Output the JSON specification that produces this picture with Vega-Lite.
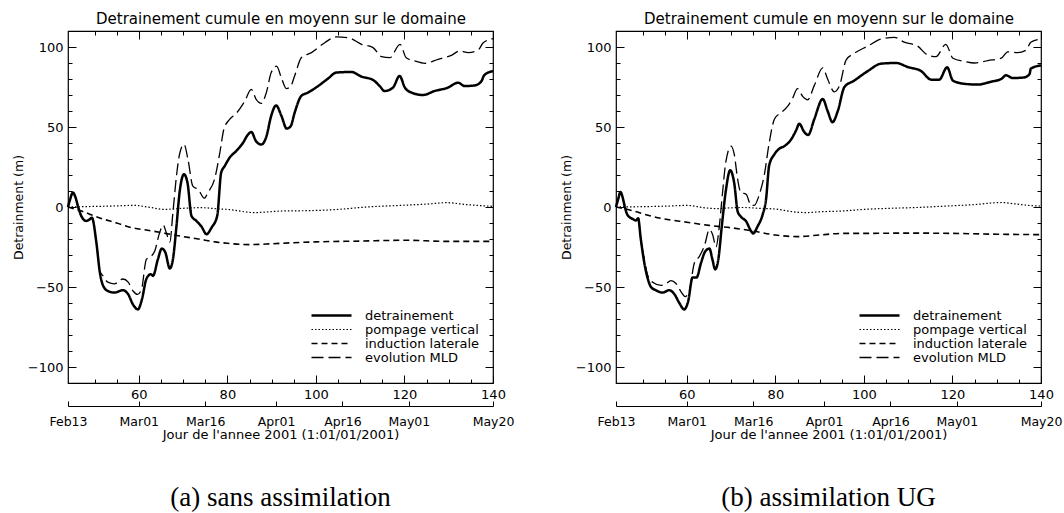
{
"$schema": "https://vega.github.io/schema/vega-lite/v6.json",
"background": "white",
"padding": {"left": 11, "top": 10, "right": 0, "bottom": 0},
"spacing": 44,
"config": {
  "view": {"stroke": "black", "strokeWidth": 1.2},
  "font": "DejaVu Sans",
  "axis": {"grid": false, "tickColor": "black", "labelColor": "black", "titleColor": "black", "domainColor": "black", "labelFont": "DejaVu Sans", "titleFont": "DejaVu Sans", "titleFontWeight": "normal", "labelFontSize": 13, "titleFontSize": 13, "labelFlush": false, "labelOverlap": false, "labelBound": false, "tickWidth": 1}
},
"resolve": {"scale": {"strokeDash": "independent", "strokeWidth": "independent"}, "legend": {"strokeDash": "independent", "strokeWidth": "independent"}},
"datasets": {
"a": [
{"d":44,"v":0,"s":"detrainement"},{"d":44.5,"v":5,"s":"detrainement"},{"d":45.1,"v":9,"s":"detrainement"},{"d":45.7,"v":6,"s":"detrainement"},{"d":46.3,"v":0,"s":"detrainement"},{"d":47,"v":-5.6,"s":"detrainement"},{"d":48.1,"v":-8.7,"s":"detrainement"},{"d":48.9,"v":-7.7,"s":"detrainement"},{"d":49.4,"v":-6.7,"s":"detrainement"},{"d":50.4,"v":-22,"s":"detrainement"},{"d":51.2,"v":-41,"s":"detrainement"},{"d":51.9,"v":-49,"s":"detrainement"},{"d":53,"v":-52.5,"s":"detrainement"},{"d":54.5,"v":-53.5,"s":"detrainement"},{"d":56.4,"v":-52,"s":"detrainement"},{"d":57.6,"v":-54.6,"s":"detrainement"},{"d":58.7,"v":-61,"s":"detrainement"},{"d":59.8,"v":-64,"s":"detrainement"},{"d":60.7,"v":-57.7,"s":"detrainement"},{"d":61.7,"v":-45,"s":"detrainement"},{"d":62.7,"v":-42,"s":"detrainement"},{"d":63.2,"v":-43,"s":"detrainement"},{"d":64.3,"v":-32.7,"s":"detrainement"},{"d":65.2,"v":-26,"s":"detrainement"},{"d":66,"v":-28.5,"s":"detrainement"},{"d":67,"v":-38.5,"s":"detrainement"},{"d":67.7,"v":-32.7,"s":"detrainement"},{"d":68.5,"v":-12,"s":"detrainement"},{"d":69.2,"v":9,"s":"detrainement"},{"d":70.2,"v":20.4,"s":"detrainement"},{"d":71,"v":15,"s":"detrainement"},{"d":71.9,"v":-5.6,"s":"detrainement"},{"d":73,"v":-8.7,"s":"detrainement"},{"d":74.1,"v":-12,"s":"detrainement"},{"d":75.3,"v":-17,"s":"detrainement"},{"d":76.4,"v":-13,"s":"detrainement"},{"d":77.7,"v":-5.6,"s":"detrainement"},{"d":78.6,"v":21.5,"s":"detrainement"},{"d":79.4,"v":25.6,"s":"detrainement"},{"d":80.5,"v":30.8,"s":"detrainement"},{"d":82,"v":35,"s":"detrainement"},{"d":83.5,"v":40,"s":"detrainement"},{"d":84.7,"v":45.4,"s":"detrainement"},{"d":85.4,"v":46.9,"s":"detrainement"},{"d":86.5,"v":41,"s":"detrainement"},{"d":87.7,"v":39,"s":"detrainement"},{"d":88.8,"v":44,"s":"detrainement"},{"d":89.9,"v":57,"s":"detrainement"},{"d":91,"v":63.5,"s":"detrainement"},{"d":92.2,"v":57,"s":"detrainement"},{"d":93.4,"v":49,"s":"detrainement"},{"d":94.3,"v":50.5,"s":"detrainement"},{"d":95.2,"v":59,"s":"detrainement"},{"d":96.7,"v":69.4,"s":"detrainement"},{"d":98.2,"v":71.5,"s":"detrainement"},{"d":100.5,"v":75.6,"s":"detrainement"},{"d":102.7,"v":80.2,"s":"detrainement"},{"d":104.6,"v":84,"s":"detrainement"},{"d":108,"v":84.4,"s":"detrainement"},{"d":110.3,"v":81.5,"s":"detrainement"},{"d":112.9,"v":79.4,"s":"detrainement"},{"d":114.4,"v":75.6,"s":"detrainement"},{"d":115.5,"v":72.5,"s":"detrainement"},{"d":117.4,"v":74.6,"s":"detrainement"},{"d":118.9,"v":81.9,"s":"detrainement"},{"d":120.1,"v":74.6,"s":"detrainement"},{"d":121.6,"v":71.5,"s":"detrainement"},{"d":124.2,"v":70,"s":"detrainement"},{"d":126.8,"v":72.5,"s":"detrainement"},{"d":129.8,"v":74.6,"s":"detrainement"},{"d":132.1,"v":77.7,"s":"detrainement"},{"d":133.6,"v":75.6,"s":"detrainement"},{"d":135.9,"v":76,"s":"detrainement"},{"d":137.4,"v":78.7,"s":"detrainement"},{"d":138,"v":82.3,"s":"detrainement"},{"d":140,"v":85,"s":"detrainement"},
{"d":44,"v":0,"s":"pompage vertical"},{"d":49,"v":0.3,"s":"pompage vertical"},{"d":54,"v":0.6,"s":"pompage vertical"},{"d":59,"v":1,"s":"pompage vertical"},{"d":62,"v":0,"s":"pompage vertical"},{"d":65.8,"v":-1.5,"s":"pompage vertical"},{"d":70,"v":-0.8,"s":"pompage vertical"},{"d":74,"v":-0.4,"s":"pompage vertical"},{"d":78,"v":-1.2,"s":"pompage vertical"},{"d":80,"v":-1.5,"s":"pompage vertical"},{"d":86,"v":-3.5,"s":"pompage vertical"},{"d":92.5,"v":-2.5,"s":"pompage vertical"},{"d":98,"v":-2.3,"s":"pompage vertical"},{"d":104,"v":-1.7,"s":"pompage vertical"},{"d":111.5,"v":0,"s":"pompage vertical"},{"d":119,"v":1,"s":"pompage vertical"},{"d":125,"v":1.8,"s":"pompage vertical"},{"d":129.5,"v":2.7,"s":"pompage vertical"},{"d":134,"v":1.5,"s":"pompage vertical"},{"d":140,"v":0.4,"s":"pompage vertical"},
{"d":44,"v":0,"s":"induction laterale"},{"d":47,"v":-2.5,"s":"induction laterale"},{"d":51,"v":-6.7,"s":"induction laterale"},{"d":55,"v":-10,"s":"induction laterale"},{"d":58.5,"v":-13,"s":"induction laterale"},{"d":62,"v":-14.5,"s":"induction laterale"},{"d":66,"v":-16.5,"s":"induction laterale"},{"d":70,"v":-18.5,"s":"induction laterale"},{"d":73.5,"v":-20,"s":"induction laterale"},{"d":77,"v":-21.7,"s":"induction laterale"},{"d":80,"v":-22.7,"s":"induction laterale"},{"d":85,"v":-23.5,"s":"induction laterale"},{"d":90,"v":-23,"s":"induction laterale"},{"d":95,"v":-22.3,"s":"induction laterale"},{"d":100,"v":-21.8,"s":"induction laterale"},{"d":110,"v":-21.3,"s":"induction laterale"},{"d":120,"v":-20.8,"s":"induction laterale"},{"d":130,"v":-21.5,"s":"induction laterale"},{"d":140,"v":-21.5,"s":"induction laterale"},
{"d":44,"v":0,"s":"evolution MLD"},{"d":44.5,"v":5,"s":"evolution MLD"},{"d":45.1,"v":9,"s":"evolution MLD"},{"d":45.7,"v":6,"s":"evolution MLD"},{"d":46.3,"v":0,"s":"evolution MLD"},{"d":47,"v":-5.6,"s":"evolution MLD"},{"d":48.1,"v":-8.5,"s":"evolution MLD"},{"d":49.4,"v":-6.7,"s":"evolution MLD"},{"d":50.4,"v":-22,"s":"evolution MLD"},{"d":51.2,"v":-40,"s":"evolution MLD"},{"d":51.9,"v":-43,"s":"evolution MLD"},{"d":53,"v":-47,"s":"evolution MLD"},{"d":54.5,"v":-48,"s":"evolution MLD"},{"d":56.4,"v":-45,"s":"evolution MLD"},{"d":57.6,"v":-47,"s":"evolution MLD"},{"d":58.7,"v":-52.5,"s":"evolution MLD"},{"d":59.7,"v":-54.6,"s":"evolution MLD"},{"d":60.6,"v":-51.5,"s":"evolution MLD"},{"d":61.7,"v":-32.7,"s":"evolution MLD"},{"d":62.7,"v":-31,"s":"evolution MLD"},{"d":63.6,"v":-27.5,"s":"evolution MLD"},{"d":64.7,"v":-16,"s":"evolution MLD"},{"d":65.5,"v":-11.3,"s":"evolution MLD"},{"d":66.2,"v":-16,"s":"evolution MLD"},{"d":67,"v":-22,"s":"evolution MLD"},{"d":67.7,"v":-3.5,"s":"evolution MLD"},{"d":68.5,"v":19.4,"s":"evolution MLD"},{"d":69.2,"v":33,"s":"evolution MLD"},{"d":70.2,"v":39.2,"s":"evolution MLD"},{"d":71.1,"v":29.8,"s":"evolution MLD"},{"d":72.2,"v":13,"s":"evolution MLD"},{"d":73.4,"v":11,"s":"evolution MLD"},{"d":74.8,"v":5.5,"s":"evolution MLD"},{"d":75.6,"v":9,"s":"evolution MLD"},{"d":77.1,"v":17.3,"s":"evolution MLD"},{"d":78.3,"v":34,"s":"evolution MLD"},{"d":79.2,"v":48.5,"s":"evolution MLD"},{"d":80.5,"v":54.8,"s":"evolution MLD"},{"d":82,"v":58.5,"s":"evolution MLD"},{"d":83.9,"v":66,"s":"evolution MLD"},{"d":85.4,"v":73.5,"s":"evolution MLD"},{"d":86.5,"v":67.3,"s":"evolution MLD"},{"d":87.7,"v":64.8,"s":"evolution MLD"},{"d":88.8,"v":71.5,"s":"evolution MLD"},{"d":89.9,"v":84,"s":"evolution MLD"},{"d":91.1,"v":88,"s":"evolution MLD"},{"d":92.2,"v":80.8,"s":"evolution MLD"},{"d":93.3,"v":74,"s":"evolution MLD"},{"d":94.2,"v":75,"s":"evolution MLD"},{"d":95.2,"v":82,"s":"evolution MLD"},{"d":96.7,"v":93.3,"s":"evolution MLD"},{"d":99,"v":96.5,"s":"evolution MLD"},{"d":102,"v":102.7,"s":"evolution MLD"},{"d":104.6,"v":106.3,"s":"evolution MLD"},{"d":107.3,"v":105.8,"s":"evolution MLD"},{"d":110.3,"v":101.7,"s":"evolution MLD"},{"d":112.9,"v":99.6,"s":"evolution MLD"},{"d":114.8,"v":94,"s":"evolution MLD"},{"d":116.7,"v":93.3,"s":"evolution MLD"},{"d":119,"v":101.7,"s":"evolution MLD"},{"d":120.4,"v":93.3,"s":"evolution MLD"},{"d":122.3,"v":91.3,"s":"evolution MLD"},{"d":124.6,"v":89.8,"s":"evolution MLD"},{"d":127.6,"v":92.3,"s":"evolution MLD"},{"d":130.6,"v":94.8,"s":"evolution MLD"},{"d":132.5,"v":97.5,"s":"evolution MLD"},{"d":134.4,"v":96.5,"s":"evolution MLD"},{"d":136.6,"v":98,"s":"evolution MLD"},{"d":137.8,"v":102.7,"s":"evolution MLD"},{"d":140,"v":105.2,"s":"evolution MLD"}
],
"b": [
{"d":44,"v":0,"s":"detrainement"},{"d":44.5,"v":5,"s":"detrainement"},{"d":45,"v":9.4,"s":"detrainement"},{"d":45.5,"v":6,"s":"detrainement"},{"d":46,"v":0,"s":"detrainement"},{"d":46.6,"v":-5,"s":"detrainement"},{"d":47.8,"v":-7.5,"s":"detrainement"},{"d":48.5,"v":-8.5,"s":"detrainement"},{"d":49,"v":-7,"s":"detrainement"},{"d":49.6,"v":-20,"s":"detrainement"},{"d":50.4,"v":-35,"s":"detrainement"},{"d":51.2,"v":-45,"s":"detrainement"},{"d":51.9,"v":-50,"s":"detrainement"},{"d":53,"v":-52,"s":"detrainement"},{"d":54.5,"v":-53.5,"s":"detrainement"},{"d":56,"v":-52,"s":"detrainement"},{"d":57.2,"v":-54.5,"s":"detrainement"},{"d":58.3,"v":-60,"s":"detrainement"},{"d":59.4,"v":-64,"s":"detrainement"},{"d":60.3,"v":-59,"s":"detrainement"},{"d":61.3,"v":-44,"s":"detrainement"},{"d":62.2,"v":-44,"s":"detrainement"},{"d":63.2,"v":-35,"s":"detrainement"},{"d":64.1,"v":-28,"s":"detrainement"},{"d":65.1,"v":-26,"s":"detrainement"},{"d":65.8,"v":-33,"s":"detrainement"},{"d":66.4,"v":-39,"s":"detrainement"},{"d":67.1,"v":-33,"s":"detrainement"},{"d":67.9,"v":-12,"s":"detrainement"},{"d":68.8,"v":10,"s":"detrainement"},{"d":69.8,"v":23,"s":"detrainement"},{"d":70.7,"v":15,"s":"detrainement"},{"d":71.5,"v":-3,"s":"detrainement"},{"d":72.2,"v":-6,"s":"detrainement"},{"d":73.4,"v":-9,"s":"detrainement"},{"d":74.5,"v":-15,"s":"detrainement"},{"d":75,"v":-16.5,"s":"detrainement"},{"d":76,"v":-12,"s":"detrainement"},{"d":77.1,"v":-5,"s":"detrainement"},{"d":77.9,"v":5,"s":"detrainement"},{"d":78.6,"v":26,"s":"detrainement"},{"d":79.8,"v":33,"s":"detrainement"},{"d":80.9,"v":36.5,"s":"detrainement"},{"d":82,"v":38,"s":"detrainement"},{"d":83.5,"v":42,"s":"detrainement"},{"d":84.7,"v":48,"s":"detrainement"},{"d":85.4,"v":52,"s":"detrainement"},{"d":86.5,"v":47,"s":"detrainement"},{"d":87.4,"v":45,"s":"detrainement"},{"d":88.8,"v":55,"s":"detrainement"},{"d":90.7,"v":67.5,"s":"detrainement"},{"d":91.8,"v":60,"s":"detrainement"},{"d":92.9,"v":53,"s":"detrainement"},{"d":94.1,"v":60,"s":"detrainement"},{"d":95.6,"v":75,"s":"detrainement"},{"d":97.8,"v":79,"s":"detrainement"},{"d":100.9,"v":85,"s":"detrainement"},{"d":103.9,"v":89.6,"s":"detrainement"},{"d":107.3,"v":90,"s":"detrainement"},{"d":109.9,"v":87.5,"s":"detrainement"},{"d":112.9,"v":85,"s":"detrainement"},{"d":115.2,"v":79.6,"s":"detrainement"},{"d":117,"v":79.6,"s":"detrainement"},{"d":118.8,"v":87.3,"s":"detrainement"},{"d":120.1,"v":79,"s":"detrainement"},{"d":122.7,"v":77,"s":"detrainement"},{"d":125.7,"v":76.5,"s":"detrainement"},{"d":128.7,"v":78.3,"s":"detrainement"},{"d":131,"v":80,"s":"detrainement"},{"d":132.1,"v":82.3,"s":"detrainement"},{"d":133.6,"v":80.6,"s":"detrainement"},{"d":136.2,"v":81,"s":"detrainement"},{"d":137.4,"v":83,"s":"detrainement"},{"d":137.7,"v":86.5,"s":"detrainement"},{"d":140,"v":88.5,"s":"detrainement"},
{"d":44,"v":0,"s":"pompage vertical"},{"d":50,"v":0.2,"s":"pompage vertical"},{"d":56,"v":0.6,"s":"pompage vertical"},{"d":60,"v":1,"s":"pompage vertical"},{"d":64,"v":-0.5,"s":"pompage vertical"},{"d":67,"v":-1,"s":"pompage vertical"},{"d":70,"v":-0.5,"s":"pompage vertical"},{"d":73,"v":-0.3,"s":"pompage vertical"},{"d":76,"v":-0.8,"s":"pompage vertical"},{"d":80,"v":-1.3,"s":"pompage vertical"},{"d":84,"v":-3,"s":"pompage vertical"},{"d":87,"v":-3.5,"s":"pompage vertical"},{"d":90,"v":-3,"s":"pompage vertical"},{"d":95,"v":-2.5,"s":"pompage vertical"},{"d":100,"v":-1.5,"s":"pompage vertical"},{"d":106,"v":-0.8,"s":"pompage vertical"},{"d":112,"v":-0.3,"s":"pompage vertical"},{"d":118,"v":0.5,"s":"pompage vertical"},{"d":125,"v":1.5,"s":"pompage vertical"},{"d":131,"v":2.8,"s":"pompage vertical"},{"d":134,"v":2,"s":"pompage vertical"},{"d":138,"v":0.8,"s":"pompage vertical"},{"d":140,"v":0.6,"s":"pompage vertical"},
{"d":44,"v":0,"s":"induction laterale"},{"d":48,"v":-2.5,"s":"induction laterale"},{"d":51,"v":-5,"s":"induction laterale"},{"d":55,"v":-7.5,"s":"induction laterale"},{"d":60,"v":-9.5,"s":"induction laterale"},{"d":65,"v":-11.5,"s":"induction laterale"},{"d":70,"v":-13,"s":"induction laterale"},{"d":75,"v":-15,"s":"induction laterale"},{"d":80,"v":-17.5,"s":"induction laterale"},{"d":85,"v":-18.5,"s":"induction laterale"},{"d":90,"v":-17.5,"s":"induction laterale"},{"d":95,"v":-16.5,"s":"induction laterale"},{"d":100,"v":-16.5,"s":"induction laterale"},{"d":110,"v":-16.3,"s":"induction laterale"},{"d":120,"v":-16.5,"s":"induction laterale"},{"d":130,"v":-17,"s":"induction laterale"},{"d":140,"v":-17.3,"s":"induction laterale"},
{"d":44,"v":0,"s":"evolution MLD"},{"d":44.5,"v":5,"s":"evolution MLD"},{"d":45,"v":9.4,"s":"evolution MLD"},{"d":45.5,"v":6,"s":"evolution MLD"},{"d":46,"v":0,"s":"evolution MLD"},{"d":46.6,"v":-5,"s":"evolution MLD"},{"d":48.5,"v":-8.5,"s":"evolution MLD"},{"d":49,"v":-7,"s":"evolution MLD"},{"d":49.6,"v":-20,"s":"evolution MLD"},{"d":50.4,"v":-33,"s":"evolution MLD"},{"d":51.2,"v":-43,"s":"evolution MLD"},{"d":52.3,"v":-47,"s":"evolution MLD"},{"d":54.2,"v":-49,"s":"evolution MLD"},{"d":55.3,"v":-48,"s":"evolution MLD"},{"d":56.4,"v":-46,"s":"evolution MLD"},{"d":57.6,"v":-48,"s":"evolution MLD"},{"d":58.7,"v":-53,"s":"evolution MLD"},{"d":59.6,"v":-56,"s":"evolution MLD"},{"d":60.6,"v":-52,"s":"evolution MLD"},{"d":61.7,"v":-35,"s":"evolution MLD"},{"d":62.8,"v":-31,"s":"evolution MLD"},{"d":64,"v":-24,"s":"evolution MLD"},{"d":65.1,"v":-14,"s":"evolution MLD"},{"d":65.8,"v":-17,"s":"evolution MLD"},{"d":66.6,"v":-25,"s":"evolution MLD"},{"d":67.3,"v":-13,"s":"evolution MLD"},{"d":68.1,"v":10,"s":"evolution MLD"},{"d":68.8,"v":28,"s":"evolution MLD"},{"d":70,"v":38,"s":"evolution MLD"},{"d":70.7,"v":33,"s":"evolution MLD"},{"d":71.5,"v":17,"s":"evolution MLD"},{"d":72.2,"v":9,"s":"evolution MLD"},{"d":73.4,"v":8,"s":"evolution MLD"},{"d":74.5,"v":1,"s":"evolution MLD"},{"d":75.2,"v":1,"s":"evolution MLD"},{"d":76.4,"v":8,"s":"evolution MLD"},{"d":77.5,"v":20,"s":"evolution MLD"},{"d":78.6,"v":40,"s":"evolution MLD"},{"d":79.8,"v":55,"s":"evolution MLD"},{"d":81.3,"v":59,"s":"evolution MLD"},{"d":82.8,"v":63,"s":"evolution MLD"},{"d":83.9,"v":68,"s":"evolution MLD"},{"d":85,"v":74,"s":"evolution MLD"},{"d":86.2,"v":69,"s":"evolution MLD"},{"d":87.3,"v":67,"s":"evolution MLD"},{"d":88.8,"v":76,"s":"evolution MLD"},{"d":90.7,"v":87,"s":"evolution MLD"},{"d":91.8,"v":80,"s":"evolution MLD"},{"d":93.3,"v":72,"s":"evolution MLD"},{"d":94.5,"v":76,"s":"evolution MLD"},{"d":96,"v":92,"s":"evolution MLD"},{"d":97.8,"v":96,"s":"evolution MLD"},{"d":100.9,"v":100.6,"s":"evolution MLD"},{"d":103.9,"v":105,"s":"evolution MLD"},{"d":106.9,"v":106,"s":"evolution MLD"},{"d":109.1,"v":103,"s":"evolution MLD"},{"d":112.1,"v":100.6,"s":"evolution MLD"},{"d":114.4,"v":95,"s":"evolution MLD"},{"d":116.3,"v":94,"s":"evolution MLD"},{"d":118.5,"v":101.7,"s":"evolution MLD"},{"d":120.1,"v":93,"s":"evolution MLD"},{"d":122.7,"v":91,"s":"evolution MLD"},{"d":125,"v":90,"s":"evolution MLD"},{"d":128,"v":91.5,"s":"evolution MLD"},{"d":131,"v":93,"s":"evolution MLD"},{"d":132.5,"v":97,"s":"evolution MLD"},{"d":134.7,"v":96.5,"s":"evolution MLD"},{"d":136.6,"v":98,"s":"evolution MLD"},{"d":137.7,"v":103,"s":"evolution MLD"},{"d":140,"v":105,"s":"evolution MLD"}
]
},
"hconcat": [
{
 "width": 425, "height": 352,
 "data": {"name": "a"},
 "title": {"text": "(a) sans assimilation", "orient": "bottom", "font": "Liberation Serif", "fontSize": 27, "fontWeight": "normal", "color": "black", "offset": 43},
 "resolve": {"axis": {"x": "independent", "y": "independent"}},
 "layer": [
  {"mark": {"type": "line", "interpolate": "monotone", "color": "black"},
   "encoding": {
    "x": {"field": "d", "type": "quantitative", "scale": {"domain": [44, 140], "nice": false, "zero": false}, "axis": {"orient": "bottom", "values": [60, 80, 100, 120, 140], "tickSize": -8, "domain": false, "labelPadding": 13, "title": null}},
    "y": {"field": "v", "type": "quantitative", "scale": {"domain": [-110, 110], "nice": false, "zero": false}, "axis": {"orient": "left", "values": [-100, -50, 0, 50, 100], "tickSize": -8, "domain": false, "labelPadding": 13, "title": "Detrainment (m)", "titleFontSize": 12.5, "titlePadding": 2}},
    "strokeDash": {"field": "s", "type": "nominal", "scale": {"domain": ["detrainement", "pompage vertical", "induction laterale", "evolution MLD"], "range": [[1, 0], [1.5, 2], [6, 4], [12, 5]]}, "legend": {"title": null, "orient": "none", "legendX": 257, "legendY": 278, "symbolType": "M-4,0H4", "symbolSize": 100, "symbolStrokeColor": "black", "symbolFillColor": "transparent", "labelFont": "DejaVu Sans", "labelFontSize": 13, "labelColor": "black", "rowPadding": -6, "labelOffset": 27, "padding": 0}},
    "strokeWidth": {"field": "s", "type": "nominal", "scale": {"type": "ordinal", "domain": ["detrainement", "pompage vertical", "induction laterale", "evolution MLD"], "range": [2.5, 1.2, 1.6, 1.3]}, "legend": {"title": null, "orient": "none", "legendX": 257, "legendY": 278, "symbolType": "M-4,0H4", "symbolSize": 100, "symbolStrokeColor": "black", "symbolFillColor": "transparent", "labelFont": "DejaVu Sans", "labelFontSize": 13, "labelColor": "black", "rowPadding": -6, "labelOffset": 27, "padding": 0}}
   }},
  {"mark": {"type": "point", "opacity": 0, "size": 1},
   "encoding": {
    "x": {"field": "d", "type": "quantitative", "scale": {"domain": [44, 140], "nice": false, "zero": false}, "axis": {"orient": "bottom", "values": [50, 55, 65, 70, 75, 85, 90, 95, 105, 110, 115, 125, 130, 135], "tickSize": -4, "domain": false, "labels": false, "title": null}},
    "y": {"field": "v", "type": "quantitative", "scale": {"domain": [-110, 110], "nice": false, "zero": false}, "axis": {"orient": "left", "values": [-90, -80, -70, -60, -40, -30, -20, -10, 10, 20, 30, 40, 60, 70, 80, 90], "tickSize": -4, "domain": false, "labels": false, "title": null}}
   }},
  {"mark": {"type": "point", "opacity": 0, "size": 1},
   "encoding": {
    "x": {"field": "d", "type": "quantitative", "scale": {"domain": [44, 140], "nice": false, "zero": false}, "axis": {"orient": "top", "values": [60, 80, 100, 120, 140], "tickSize": -8, "domain": false, "labels": false, "title": "Detrainement cumule en moyenn sur le domaine", "titleFontSize": 15, "titlePadding": 4}},
    "y": {"field": "v", "type": "quantitative", "scale": {"domain": [-110, 110], "nice": false, "zero": false}, "axis": {"orient": "right", "values": [-100, -50, 0, 50, 100], "tickSize": -8, "domain": false, "labels": false, "title": null}}
   }},
  {"mark": {"type": "point", "opacity": 0, "size": 1},
   "encoding": {
    "x": {"field": "d", "type": "quantitative", "scale": {"domain": [44, 140], "nice": false, "zero": false}, "axis": {"orient": "top", "values": [50, 55, 65, 70, 75, 85, 90, 95, 105, 110, 115, 125, 130, 135], "tickSize": -4, "domain": false, "labels": false, "title": null}},
    "y": {"field": "v", "type": "quantitative", "scale": {"domain": [-110, 110], "nice": false, "zero": false}, "axis": {"orient": "right", "values": [-90, -80, -70, -60, -40, -30, -20, -10, 10, 20, 30, 40, 60, 70, 80, 90], "tickSize": -4, "domain": false, "labels": false, "title": null}}
   }},
  {"mark": {"type": "point", "opacity": 0, "size": 1},
   "encoding": {
    "x": {"field": "d", "type": "quantitative", "scale": {"domain": [44, 140], "nice": false, "zero": false}, "axis": {"orient": "bottom", "offset": 23, "values": [44, 60, 75, 91, 106, 121, 140], "labelExpr": "datum.value == 44 ? 'Feb13' : datum.value == 60 ? 'Mar01' : datum.value == 75 ? 'Mar16' : datum.value == 91 ? 'Apr01' : datum.value == 106 ? 'Apr16' : datum.value == 121 ? 'May01' : 'May20'", "tickSize": -5, "domain": true, "domainWidth": 1, "labelPadding": 14, "labelFontSize": 12.5, "title": "Jour de l'annee 2001 (1:01/01/2001)", "titlePadding": 1}},
    "y": {"field": "v", "type": "quantitative", "scale": {"domain": [-110, 110], "nice": false, "zero": false}, "axis": null}
   }}
 ]
},
{
 "width": 425, "height": 352,
 "data": {"name": "b"},
 "title": {"text": "(b) assimilation UG", "orient": "bottom", "font": "Liberation Serif", "fontSize": 27, "fontWeight": "normal", "color": "black", "offset": 43},
 "resolve": {"axis": {"x": "independent", "y": "independent"}},
 "layer": [
  {"mark": {"type": "line", "interpolate": "monotone", "color": "black"},
   "encoding": {
    "x": {"field": "d", "type": "quantitative", "scale": {"domain": [44, 140], "nice": false, "zero": false}, "axis": {"orient": "bottom", "values": [60, 80, 100, 120, 140], "tickSize": -8, "domain": false, "labelPadding": 13, "title": null}},
    "y": {"field": "v", "type": "quantitative", "scale": {"domain": [-110, 110], "nice": false, "zero": false}, "axis": {"orient": "left", "values": [-100, -50, 0, 50, 100], "tickSize": -8, "domain": false, "labelPadding": 13, "title": "Detrainment (m)", "titleFontSize": 12.5, "titlePadding": 2}},
    "strokeDash": {"field": "s", "type": "nominal", "scale": {"domain": ["detrainement", "pompage vertical", "induction laterale", "evolution MLD"], "range": [[1, 0], [1.5, 2], [6, 4], [12, 5]]}, "legend": {"title": null, "orient": "none", "legendX": 257, "legendY": 278, "symbolType": "M-4,0H4", "symbolSize": 100, "symbolStrokeColor": "black", "symbolFillColor": "transparent", "labelFont": "DejaVu Sans", "labelFontSize": 13, "labelColor": "black", "rowPadding": -6, "labelOffset": 27, "padding": 0}},
    "strokeWidth": {"field": "s", "type": "nominal", "scale": {"type": "ordinal", "domain": ["detrainement", "pompage vertical", "induction laterale", "evolution MLD"], "range": [2.5, 1.2, 1.6, 1.3]}, "legend": {"title": null, "orient": "none", "legendX": 257, "legendY": 278, "symbolType": "M-4,0H4", "symbolSize": 100, "symbolStrokeColor": "black", "symbolFillColor": "transparent", "labelFont": "DejaVu Sans", "labelFontSize": 13, "labelColor": "black", "rowPadding": -6, "labelOffset": 27, "padding": 0}}
   }},
  {"mark": {"type": "point", "opacity": 0, "size": 1},
   "encoding": {
    "x": {"field": "d", "type": "quantitative", "scale": {"domain": [44, 140], "nice": false, "zero": false}, "axis": {"orient": "bottom", "values": [50, 55, 65, 70, 75, 85, 90, 95, 105, 110, 115, 125, 130, 135], "tickSize": -4, "domain": false, "labels": false, "title": null}},
    "y": {"field": "v", "type": "quantitative", "scale": {"domain": [-110, 110], "nice": false, "zero": false}, "axis": {"orient": "left", "values": [-90, -80, -70, -60, -40, -30, -20, -10, 10, 20, 30, 40, 60, 70, 80, 90], "tickSize": -4, "domain": false, "labels": false, "title": null}}
   }},
  {"mark": {"type": "point", "opacity": 0, "size": 1},
   "encoding": {
    "x": {"field": "d", "type": "quantitative", "scale": {"domain": [44, 140], "nice": false, "zero": false}, "axis": {"orient": "top", "values": [60, 80, 100, 120, 140], "tickSize": -8, "domain": false, "labels": false, "title": "Detrainement cumule en moyenn sur le domaine", "titleFontSize": 15, "titlePadding": 4}},
    "y": {"field": "v", "type": "quantitative", "scale": {"domain": [-110, 110], "nice": false, "zero": false}, "axis": {"orient": "right", "values": [-100, -50, 0, 50, 100], "tickSize": -8, "domain": false, "labels": false, "title": null}}
   }},
  {"mark": {"type": "point", "opacity": 0, "size": 1},
   "encoding": {
    "x": {"field": "d", "type": "quantitative", "scale": {"domain": [44, 140], "nice": false, "zero": false}, "axis": {"orient": "top", "values": [50, 55, 65, 70, 75, 85, 90, 95, 105, 110, 115, 125, 130, 135], "tickSize": -4, "domain": false, "labels": false, "title": null}},
    "y": {"field": "v", "type": "quantitative", "scale": {"domain": [-110, 110], "nice": false, "zero": false}, "axis": {"orient": "right", "values": [-90, -80, -70, -60, -40, -30, -20, -10, 10, 20, 30, 40, 60, 70, 80, 90], "tickSize": -4, "domain": false, "labels": false, "title": null}}
   }},
  {"mark": {"type": "point", "opacity": 0, "size": 1},
   "encoding": {
    "x": {"field": "d", "type": "quantitative", "scale": {"domain": [44, 140], "nice": false, "zero": false}, "axis": {"orient": "bottom", "offset": 23, "values": [44, 60, 75, 91, 106, 121, 140], "labelExpr": "datum.value == 44 ? 'Feb13' : datum.value == 60 ? 'Mar01' : datum.value == 75 ? 'Mar16' : datum.value == 91 ? 'Apr01' : datum.value == 106 ? 'Apr16' : datum.value == 121 ? 'May01' : 'May20'", "tickSize": -5, "domain": true, "domainWidth": 1, "labelPadding": 14, "labelFontSize": 12.5, "title": "Jour de l'annee 2001 (1:01/01/2001)", "titlePadding": 1}},
    "y": {"field": "v", "type": "quantitative", "scale": {"domain": [-110, 110], "nice": false, "zero": false}, "axis": null}
   }}
 ]
}
]
}
